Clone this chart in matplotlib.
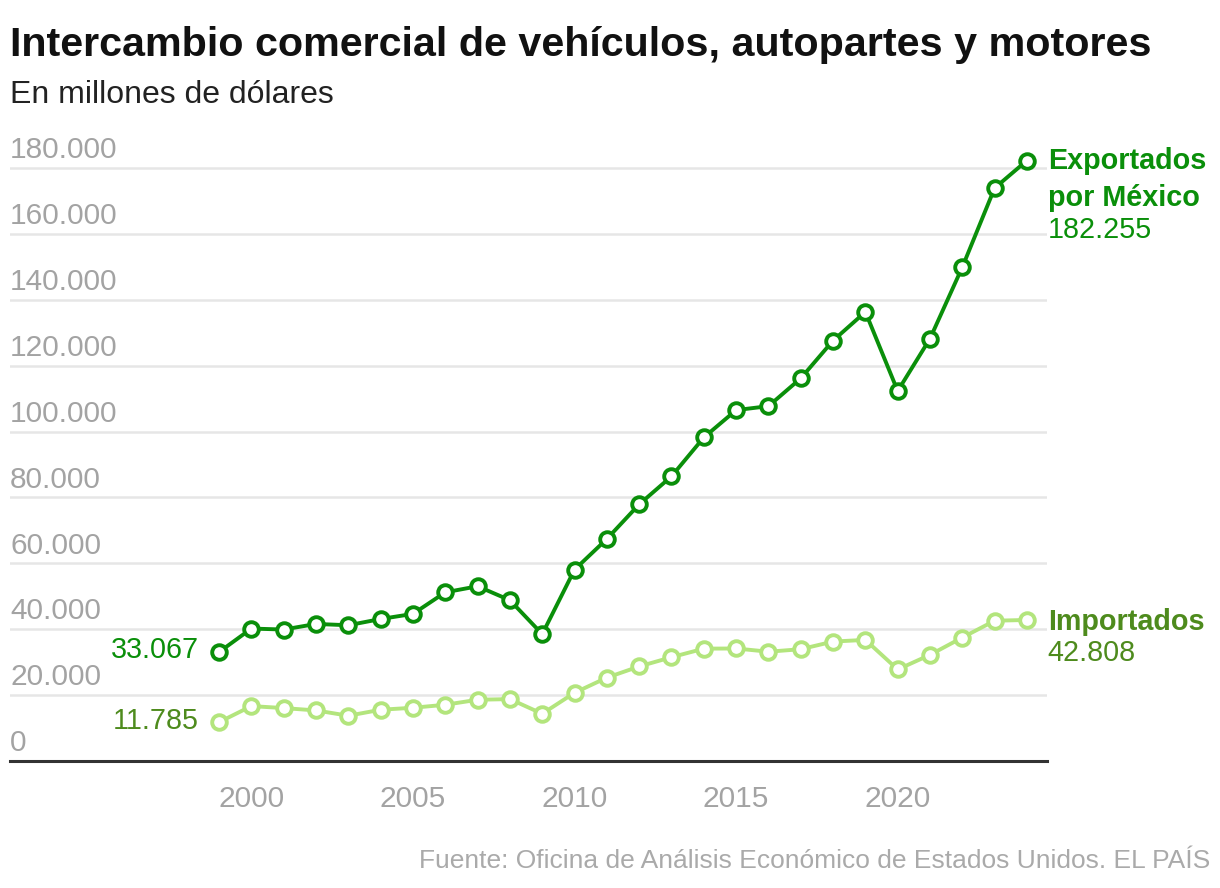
import numpy as np
import matplotlib
matplotlib.use("Agg")
import matplotlib.pyplot as plt

plt.rcParams["font.family"] = ["Liberation Sans", "DejaVu Sans"]

# Datos (millones de dólares)
years = list(range(1999, 2025))
exportados = [33067, 40200, 39900, 41600, 41200, 43100, 44650, 51200, 53030,
              48800, 38500, 58080, 67400, 77900, 86400, 98200, 106500, 107700,
              116150, 127600, 136300, 112300, 128200, 149900, 173900, 182255]
importados = [11785, 16670, 16060, 15350, 13740, 15560, 16160, 17070, 18590,
              18790, 14340, 20710, 25300, 28700, 31500, 34100, 34150, 33170,
              33930, 36250, 36760, 27780, 32220, 37470, 42580, 42808]
yticks = [0, 20000, 40000, 60000, 80000, 100000, 120000, 140000, 160000, 180000]
xticks = [2000, 2005, 2010, 2015, 2020]

title = "Intercambio comercial de vehículos, autopartes y motores"
subtitle = "En millones de dólares"
source = "Fuente: Oficina de Análisis Económico de Estados Unidos. EL PAÍS"

C_EXP = "#0a8f0a"
C_IMP = "#b3e57d"
C_IMP_TXT = "#4e8b1d"
C_GRID = "#e6e6e6"
C_TICK = "#a3a3a3"


def fmt(v):
    return f"{v:,}".replace(",", ".")


W, H = 1220, 888
fig = plt.figure(figsize=(W / 100, H / 100), dpi=100)
ax = fig.add_axes([10 / W, 1 - 761 / H, (1047 - 10) / W, (761 - 135) / H])
ax.set_xlim(1992.53, 2024.62)
ax.set_ylim(0, 190000)
for s in ax.spines.values():
    s.set_visible(False)
ax.set_xticks([]); ax.set_yticks([])

for v in yticks[1:]:
    ax.axhline(v, color=C_GRID, lw=1.8, zorder=0)
ax.axhline(0, color="#333333", lw=2.2, zorder=1, clip_on=False)

for v in yticks:
    ax.annotate(fmt(v), xy=(0, v), xycoords=("axes fraction", "data"),
                xytext=(0, 7), textcoords="offset points",
                ha="left", va="baseline", fontsize=21.5, color=C_TICK)
for yr in xticks:
    ax.annotate(str(yr), xy=(yr, 0), xytext=(0, -33), textcoords="offset points",
                ha="center", va="baseline", fontsize=21.5, color=C_TICK,
                annotation_clip=False)

ax.plot(years, importados, color=C_IMP, lw=2.8, marker="o", ms=10.5,
        mfc="white", mec=C_IMP, mew=2.8, clip_on=False, zorder=3)
ax.plot(years, exportados, color=C_EXP, lw=2.8, marker="o", ms=10.5,
        mfc="white", mec=C_EXP, mew=2.8, clip_on=False, zorder=4)

# etiquetas de inicio
ax.annotate(fmt(exportados[0]), xy=(years[0], exportados[0]), xytext=(-14.5, -4.5),
            textcoords="offset points", ha="right", va="baseline",
            fontsize=20.7, color=C_EXP)
ax.annotate(fmt(importados[0]), xy=(years[0], importados[0]), xytext=(-14.5, -5),
            textcoords="offset points", ha="right", va="baseline",
            fontsize=20.7, color=C_IMP_TXT)

# etiquetas finales
end_exp = [("Exportados", "bold", -6), ("por México", "bold", -32.5),
           (fmt(exportados[-1]), "normal", -55.5)]
for txt, w, dy in end_exp:
    ax.annotate(txt, xy=(years[-1], exportados[-1]), xytext=(15, dy),
                textcoords="offset points", ha="left", va="baseline",
                fontsize=20.7, fontweight=w, color=C_EXP, annotation_clip=False)
end_imp = [("Importados", "bold", -7), (fmt(importados[-1]), "normal", -29.5)]
for txt, w, dy in end_imp:
    ax.annotate(txt, xy=(years[-1], importados[-1]), xytext=(15, dy),
                textcoords="offset points", ha="left", va="baseline",
                fontsize=20.7, fontweight=w, color=C_IMP_TXT, annotation_clip=False)

fig.text(10 / W, 1 - 56 / H, title, ha="left", va="baseline",
         fontsize=29.7, fontweight="bold", color="#111111")
fig.text(10 / W, 1 - 103 / H, subtitle, ha="left", va="baseline",
         fontsize=23, color="#222222")
fig.text(1210 / W, 1 - 868 / H, source, ha="right", va="baseline",
         fontsize=19, color="#aaaaaa")

fig.savefig("out.png", dpi=100)
